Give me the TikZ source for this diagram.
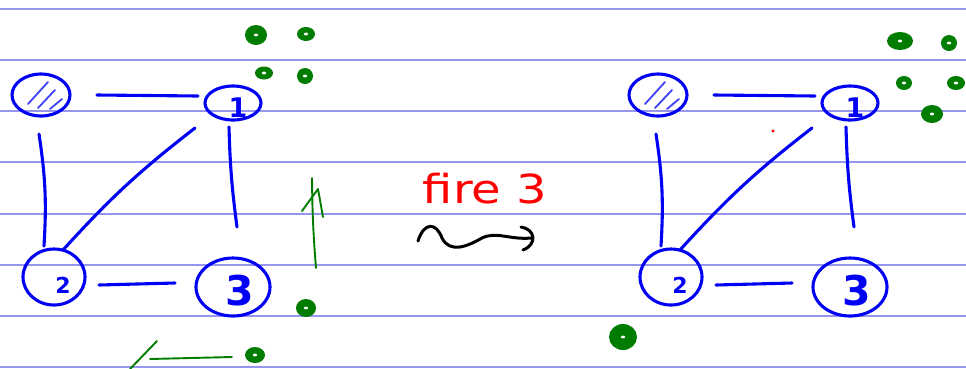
\documentclass[tikz,border=0pt]{standalone}
\usepackage{fontspec}
\usepackage{graphicx}
\setmainfont{DejaVu Sans}
\usetikzlibrary{shapes.geometric,calc}
\definecolor{rulecol}{RGB}{150,150,240}
\definecolor{ink}{RGB}{0,0,245}
\definecolor{grn}{RGB}{0,125,0}
\definecolor{redink}{RGB}{255,0,0}
\tikzset{
  vtx/.style={ellipse, draw=ink, line width=3.1pt, inner sep=0pt},
  edge/.style={draw=ink, line width=3.1pt, line cap=round},
  numlab/.style={text=ink, inner sep=0pt},
  hatchline/.style={draw=ink!75, line width=1.8pt, line cap=round},
  ruled/.style={draw=rulecol, line width=1.4pt},
  gstroke/.style={draw=grn, line width=1.9pt, line cap=round, line join=round},
  squig/.style={draw=black, line width=3pt, line cap=round},
}
\newcommand\gblob[4]{%
  \fill[grn] (#1,#2) ellipse [x radius=#3, y radius=#4];
  \fill[white] (#1,#2) ellipse [x radius=2.2, y radius=1.4];}
\newcommand\sketchgraph[2]{%
\begin{scope}[xshift=#2]
  \node[vtx, minimum width=58pt, minimum height=42pt] (#1a) at (41,95) {};
  \node[vtx, minimum width=56pt, minimum height=34pt] (#1b) at (233,103) {};
  \node[vtx, minimum width=62pt, minimum height=56pt] (#1c) at (54,277) {};
  \node[vtx, minimum width=74pt, minimum height=58pt] (#1d) at (233,287) {};
  \node[numlab, font=\bfseries\fontsize{27}{27}\selectfont] (#1lb) at (238,108) {1};
  \node[numlab, font=\bfseries\fontsize{22}{22}\selectfont] (#1lc) at (63,285) {2};
  \node[numlab, font=\bfseries\fontsize{41}{41}\selectfont] (#1ld) at (240,291) {3};
  \draw[hatchline] (28,104) -- (48,82);
  \draw[hatchline] (38,108) -- (55,90);
  \draw[hatchline] (50,109) -- (62,99);
  \draw[edge] ([shift={(56,0)}]#1a.center) -- ([shift={(-35,-7)}]#1b.center);
  \draw[edge] ([shift={(-2,39)}]#1a.center) to[bend left=6] ([shift={(-10,-31)}]#1c.center);
  \draw[edge] ([shift={(-38,25)}]#1b.center) to[bend right=5] ([shift={(9,-27)}]#1c.center);
  \draw[edge] ([shift={(-4,24)}]#1b.center) to[bend right=3] ([shift={(4,-60)}]#1d.center);
  \draw[edge] ([shift={(45,8)}]#1c.center) -- ([shift={(-58,-4)}]#1d.center);
\end{scope}}
\begin{document}
\begin{tikzpicture}[x=1pt,y=-1pt]
  \useasboundingbox (0,0) rectangle (966,368);
  \fill[white] (0,0) rectangle (966,368);
  \foreach \yy in {9,60,111,162,214,265,316,367}
    \draw[ruled] (0,\yy) -- (966,\yy);
  % graphs
  \sketchgraph{L}{0pt}
  \sketchgraph{R}{617pt}
  % middle text and squiggle arrow
  \node[text=redink, font=\fontsize{40}{40}\selectfont, anchor=base, inner sep=0pt] (fire) at (485,203) {\scalebox{1.2}[1]{fire 3}};
  \coordinate (sqA) at (418,241);
  \coordinate (sqB) at (531,238);
  \draw[squig] (sqA) .. controls (424,222) and (436,222) .. (442,238)
     .. controls (450,254) and (468,246) .. (482,238)
     .. controls (496,231) and (510,240) .. (sqB);
  \draw[squig] (521,227) .. controls (535,229) and (538,244) .. (523,250);
  % red dot
  \fill[redink] (773,131) circle [radius=1.6];
  % green marks left
  \gblob{256}{35}{11}{10}
  \gblob{306}{34}{9}{7}
  \gblob{264}{73}{9}{6.5}
  \gblob{305}{76}{8}{8}
  \gblob{306}{308}{10}{9}
  \gblob{255}{355}{10}{8}
  \coordinate (gaT) at (312,178);
  \coordinate (gaB) at (316,268);
  \draw[gstroke] (gaB) to[bend left=2] (gaT);
  \draw[gstroke] (302,211) -- (318,189) -- (323,217);
  \coordinate (gbR) at (232,357);
  \coordinate (gbL) at (150,359);
  \draw[gstroke] (gbR) -- (gbL);
  \draw[gstroke] (130,369) -- (157,341);
  % green marks right
  \gblob{900}{41}{13}{9}
  \gblob{949}{43}{8}{8}
  \gblob{904}{83}{8}{7}
  \gblob{956}{83}{9}{7}
  \gblob{932}{114}{11}{9}
  \gblob{623}{337}{14}{13}
\end{tikzpicture}
\end{document}
